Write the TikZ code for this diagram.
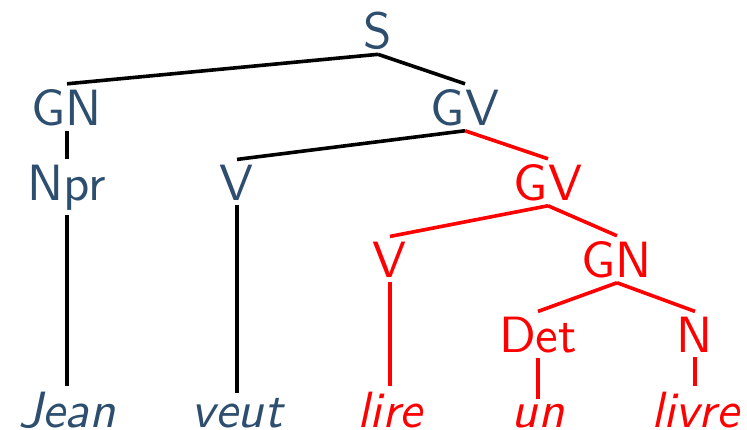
\documentclass[tikz,border=0pt]{standalone}
\usepackage{fontspec}
\newfontfamily\treefont{lmsans10-regular.otf}[ItalicFont=lmsans10-oblique.otf]
\definecolor{tblue}{RGB}{45,78,110}
\definecolor{tred}{RGB}{255,0,0}
\begin{document}
\begin{tikzpicture}[x=1pt,y=-1pt,
  lab/.style={font=\fontsize{51}{60}\selectfont\treefont, text=tblue, inner sep=5pt, anchor=base},
  leaf/.style={lab, font=\fontsize{51}{60}\selectfont\treefont\itshape},
  hl/.style={text=tred},
  edge/.style={line width=3.6pt, draw=black},
  redge/.style={line width=3.6pt, draw=tred}]
\useasboundingbox (0,0) rectangle (747,429);
% nodes
\node[lab] (S) at (378,48) {S};
\node[lab] (GN) at (67,125) {GN};
\node[lab] (GV) at (465,125) {GV};
\node[lab] (Npr) at (67,200) {Npr};
\node[lab] (V1) at (237,200) {V};
\node[lab,hl] (GV2) at (548,200) {GV};
\node[lab,hl] (V2) at (390,277) {V};
\node[lab,hl] (GN2) at (617,277) {GN};
\node[lab,hl] (Det) at (538,352) {Det};
\node[lab,hl] (N) at (695,352) {N};
\node[leaf] (Jean) at (67,427) {Jean};
\node[leaf] (veut) at (237,427) {veut};
\node[leaf,hl] (lire) at (390,427) {lire};
\node[leaf,hl] (un) at (538,427) {un};
\node[leaf,hl] (livre) at (695,427) {livre};
% edges
\draw[edge] (S.south) -- (GN.north);
\draw[edge] (S.south) -- (GV.north);
\draw[edge] (GN.south) -- (Npr.north);
\draw[edge] (GV.south) -- (V1.north);
\draw[edge] (Npr.south) -- (Jean.north);
\draw[edge] (V1.south) -- (veut.north);
\draw[redge] (GV.south) -- (GV2.north);
\draw[redge] (GV2.south) -- (V2.north);
\draw[redge] (GV2.south) -- (GN2.north);
\draw[redge] (V2.south) -- (lire.north);
\draw[redge] (GN2.south) -- (Det.north);
\draw[redge] (GN2.south) -- (N.north);
\draw[redge] (Det.south) -- (un.north);
\draw[redge] (N.south) -- (livre.north);
\end{tikzpicture}
\end{document}
